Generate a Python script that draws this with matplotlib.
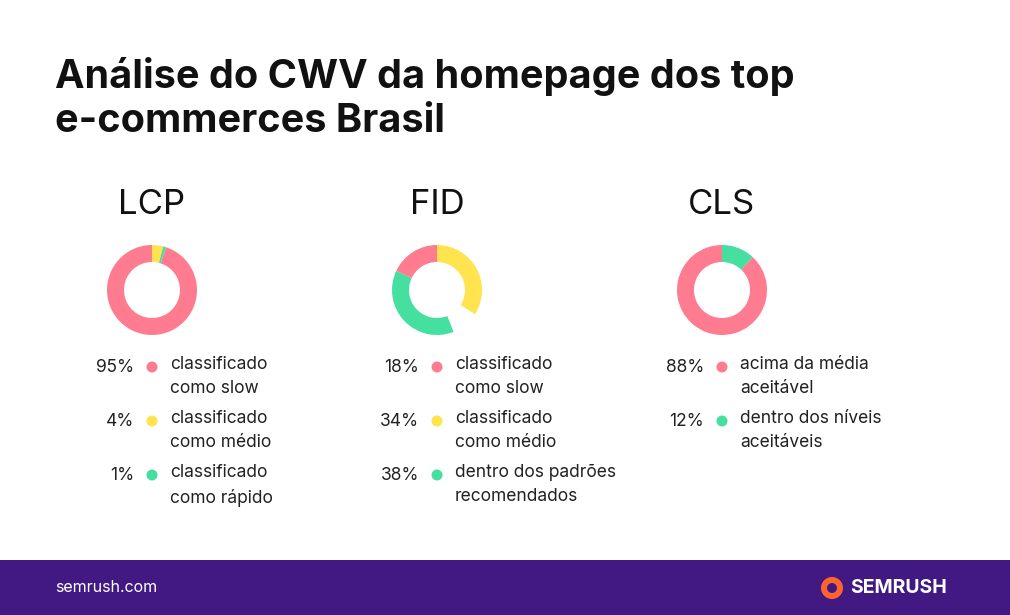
import matplotlib
matplotlib.use("Agg")
import matplotlib.pyplot as plt
from matplotlib.patches import Rectangle, Circle

W, H = 1010, 615
title = "Análise do CWV da homepage dos top\ne-commerces Brasil"
metrics = ["LCP", "FID", "CLS"]
pcts = [[95, 4, 1], [18, 34, 38], [88, 12]]
labels = [["classificado\ncomo slow", "classificado\ncomo médio", "classificado\ncomo rápido"],
          ["classificado\ncomo slow", "classificado\ncomo médio", "dentro dos padrões\nrecomendados"],
          ["acima da média\naceitável", "dentro dos níveis\naceitáveis"]]
PINK, YEL, GRN = "#FF7B8F", "#FFE34F", "#45DFA0"
colors = [[PINK, YEL, GRN], [PINK, YEL, GRN], [PINK, GRN]]
# pie order (clockwise from top)
pie_vals = [[4, 1, 95], [34, 10, 38, 18], [12, 88]]
pie_cols = [[YEL, GRN, PINK], [YEL, "none", GRN, PINK], [GRN, PINK]]

plt.rcParams["font.family"] = "Inter"
fig = plt.figure(figsize=(W/100, H/100), dpi=100)
ax = fig.add_axes([0, 0, 1, 1])
cx = [152, 437, 722]
for i in range(3):
    ax.pie(pie_vals[i], colors=pie_cols[i], center=(cx[i], H-290), radius=45,
           startangle=90, counterclock=False, frame=True,
           wedgeprops=dict(width=17, linewidth=0))
    ax.text(cx[i], H-205, metrics[i], fontsize=25, ha="center", va="center", color="#111")
    for j, (p, lab, c) in enumerate(zip(pcts[i], labels[i], colors[i])):
        y = H - 367 - 54*j
        ax.text(cx[i]-18, y, f"{p}%", fontsize=12.5, ha="right", va="center", color="#222")
        ax.add_patch(Circle((cx[i], y), 5.5, color=c, lw=0))
        ax.text(cx[i]+18, y+11, lab, fontsize=12.5, ha="left", va="top", color="#222", linespacing=1.55)
ax.text(55, H-57, title, fontsize=28.5, fontweight="bold", ha="left", va="top", color="#111", linespacing=1.25)
ax.add_patch(Rectangle((0, 0), W, 55, color="#421983", lw=0))
ax.text(55, 27, "semrush.com", fontsize=11.5, color="white", va="center")
ax.add_patch(Circle((832, 27), 11, color="#FF642D", lw=0))
ax.add_patch(Circle((832, 27), 5, color="#421983", lw=0))
ax.text(850, 27, "SEMRUSH", fontsize=14, fontweight="bold", color="white", va="center")
ax.set_xlim(0, W); ax.set_ylim(0, H); ax.set_aspect("equal")
ax.axis("off")
fig.savefig("out.png", dpi=100, facecolor="white")
